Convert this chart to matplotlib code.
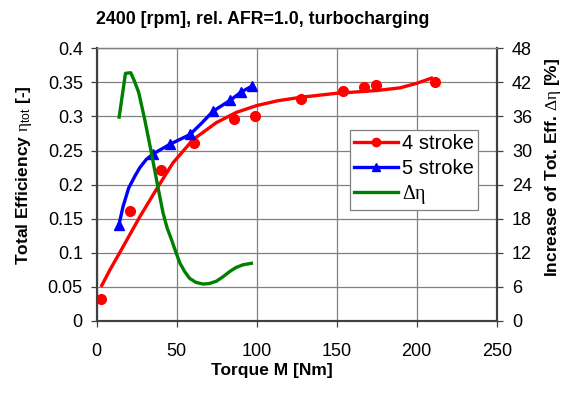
import matplotlib.pyplot as plt

plt.rcParams['font.family'] = ['Liberation Sans', 'DejaVu Sans']
plt.rcParams['mathtext.fontset'] = 'custom'
plt.rcParams['mathtext.rm'] = 'Liberation Serif'
plt.rcParams['mathtext.sf'] = 'Liberation Sans'
plt.rcParams['mathtext.it'] = 'Liberation Serif:italic'

# measured points
m4 = [2.7, 20.8, 40.4, 60.8, 85.8, 99.0, 127.9, 154.0, 167.2, 174.8, 211.3]
eta4 = [0.032, 0.162, 0.222, 0.261, 0.297, 0.300, 0.325, 0.338, 0.343, 0.346, 0.351]
m5 = [13.9, 35.2, 45.6, 58.3, 72.9, 83.3, 90.4, 97.1]
eta5 = [0.141, 0.245, 0.259, 0.274, 0.308, 0.324, 0.336, 0.345]

# curves
m4_line = [2.7, 8.3, 16.5, 27, 37.3, 47.7, 60.2, 74.8, 87.3, 100, 113, 127,
           149.8, 174.8, 189.6, 199.8, 210.2]
eta4_line = [0.050, 0.075, 0.109, 0.153, 0.193, 0.232, 0.266, 0.291, 0.306,
             0.316, 0.323, 0.328, 0.334, 0.338, 0.342, 0.3485, 0.357]
m5_line = [13.9, 16.5, 20.0, 24, 27, 31, 35.2, 45.6, 58.3, 65.5, 72.9, 83.3,
           90.4, 97.1]
eta5_line = [0.141, 0.168, 0.195, 0.213, 0.225, 0.237, 0.245, 0.259, 0.2735,
             0.290, 0.308, 0.3235, 0.336, 0.3446]
dm = [13.9, 18.0, 21.3, 23.5, 26.3, 30.0, 34.2, 38.4, 41.5, 44.0, 46.8, 49.5,
      52.0, 55.0, 58.1, 62.0, 66.5, 70.5, 74.8, 79.0, 83.1, 87.0, 91.5, 97.7]
deta = [35.6, 43.6, 43.7, 42.3, 40.2, 35.5, 29.6, 23.4, 19.0, 16.4, 14.3, 12.1,
        10.2, 8.7, 7.5, 6.8, 6.5, 6.6, 7.0, 7.8, 8.7, 9.4, 9.9, 10.2]

x_ticks = [0, 50, 100, 150, 200, 250]
y_ticks = [0, 0.05, 0.1, 0.15, 0.2, 0.25, 0.3, 0.35, 0.4]
y_labels = ['0', '0.05', '0.1', '0.15', '0.2', '0.25', '0.3', '0.35', '0.4']
y2_ticks = [0, 6, 12, 18, 24, 30, 36, 42, 48]

fig = plt.figure(figsize=(5.7, 3.94), dpi=100)
ax = fig.add_axes([0.1696, 0.1853, 0.7018, 0.6921])
ax2 = ax.twinx()

lw = 2.4
ax.plot(m4_line, eta4_line, color='#ff0000', lw=lw, solid_capstyle='butt')
ax.plot(m4, eta4, 'o', color='#ff0000', ms=7)
ax.plot(m5_line, eta5_line, color='#0000ff', lw=lw, solid_capstyle='butt')
ax.plot(m5, eta5, '^', color='#0000ff', ms=7)
ax2.plot(dm, deta, color='#008000', lw=lw, solid_capstyle='butt')

ax.set_xlim(0, 250)
ax.set_ylim(0, 0.4)
ax2.set_ylim(0, 48)
ax.set_xticks(x_ticks)
ax.set_yticks(y_ticks)
ax.set_yticklabels(y_labels)
ax2.set_yticks(y2_ticks)
ax.grid(True, color='#808080', lw=0.9)
ax.set_axisbelow(True)

for a in (ax, ax2):
    for s in a.spines.values():
        s.set_color('#404040')
        s.set_linewidth(1.5)
    a.spines['top'].set_color('#808080')
    a.spines['top'].set_linewidth(0.9)
ax.tick_params(axis='x', labelsize=13, length=4, width=0.9, color='#404040', pad=12)
ax.tick_params(axis='y', labelsize=13, length=4, width=0.9, color='#404040', pad=6)
ax2.tick_params(axis='y', labelsize=13, length=4, width=0.9, color='#404040', pad=7)

fig.text(263 / 570, 1 - 20 / 394, '2400 [rpm], rel. AFR=1.0, turbocharging',
         ha='center', va='center', fontsize=12.8, fontweight='bold')
fig.text(272 / 570, 1 - 370 / 394, 'Torque M [Nm]', ha='center', va='center',
         fontsize=12.5, fontweight='bold')
fig.text(24 / 570, 1 - 175 / 394,
         r'Total Efficiency $\mathrm{\eta}_{\mathsf{tot}}$ [-]',
         ha='center', va='center', rotation=90, fontsize=12.5, fontweight='bold')
fig.text(553 / 570, 1 - 167 / 394,
         r'Increase of Tot. Eff. $\mathrm{\Delta\eta}$ [%]',
         ha='center', va='center', rotation=90, fontsize=12.5, fontweight='bold')

# legend handles
h4, = ax.plot([], [], '-o', color='#ff0000', lw=lw, ms=6)
h5, = ax.plot([], [], '-^', color='#0000ff', lw=lw, ms=6)
hd, = ax.plot([], [], '-', color='#008000', lw=lw)
leg = ax2.legend([h4, h5, hd], ['4 stroke', '5 stroke', r'$\mathrm{\Delta\eta}$'],
                 loc='upper left', bbox_to_anchor=(350 / 570, 1 - 130 / 394),
                 bbox_transform=fig.transFigure, fontsize=14.5, frameon=True,
                 fancybox=False, edgecolor='#808080', framealpha=1,
                 handlelength=2.2, handletextpad=0.2, borderpad=0.2,
                 labelspacing=0.28, borderaxespad=0, numpoints=1)
leg.get_frame().set_linewidth(0.9)

fig.savefig('out.png', dpi=100)
